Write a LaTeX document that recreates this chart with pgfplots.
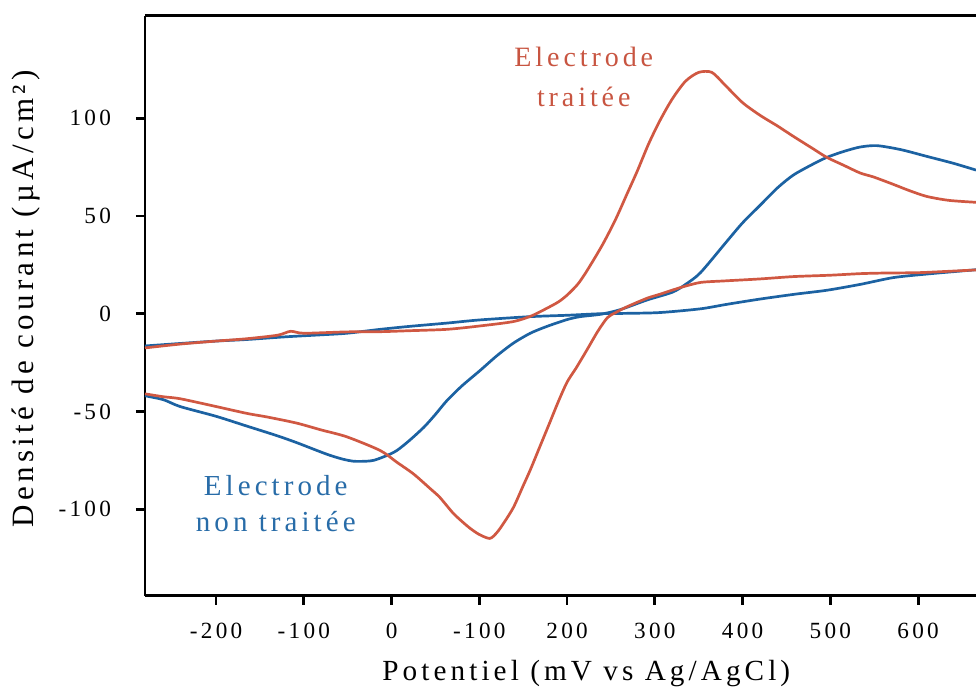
\documentclass[border=0pt]{standalone}
\usepackage{fontspec}
\setmainfont{Liberation Serif}[LetterSpace=14]
\usepackage{pgfplots}
\pgfplotsset{compat=1.18}
\definecolor{cvred}{RGB}{208,88,66}
\definecolor{cvblue}{RGB}{28,98,162}
\definecolor{lblred}{RGB}{200,85,65}
\definecolor{lblblue}{RGB}{40,108,168}
\begin{document}
\begin{tikzpicture}
\begin{axis}[name=ax,
  width=415.5pt, height=290pt, scale only axis,
  xmin=-281, xmax=666, ymin=-144.3, ymax=152.5,
  axis x line=box, axis y line=left,
  x axis line style={-}, y axis line style={-},
  axis line style={line width=1.4pt, black},
  tick align=outside, major tick length=4.5pt,
  tick style={line width=1.4pt, black},
  xtick={-200,-100,0,100,200,300,400,500,600},
  xticklabels={-200,-100,0,-100,200,300,400,500,600},
  ytick={-100,-50,0,50,100},
  yticklabels={-100,-50,0,50,100},
  xtick pos=left, ytick pos=left,
  tick label style={font=\fontsize{11.6}{13}\selectfont},
  xticklabel style={yshift=-5.5pt},
  yticklabel style={xshift=-9pt},
  xlabel={Potentiel (mV vs Ag/AgCl)},
  ylabel={Densité de courant (µA/cm²)},
  xlabel style={font=\fontsize{14.6}{17}\selectfont, at={(axis description cs:0.531,0)}, anchor=base, yshift=-42.2pt},
  ylabel style={font=\fontsize{15.5}{18}\selectfont, at={(axis description cs:0,0.512)}, anchor=base, yshift=55.5pt},
  every axis plot/.append style={line width=1.35pt, line join=round, smooth, tension=0.45},
]
% blue: baseline (upper-left and lower-right)
\addplot[cvblue] coordinates {
(-281,-16.5) (-240,-15.2) (-200,-14) (-165,-13.2) (-120,-11.8) (-80,-10.8) (-51,-10) (-13,-8) (20,-6.5) (63,-4.8) (100,-3.2) (158,-1.5) (200,-0.8) (238,0) (270,0.2) (306,0.6) (352,2.5) (382,4.8) (420,7.5) (460,10) (496,12) (534,15) (572,18.5) (610,20.3) (640,21.5) (666,22.5)
};
% blue: reduction + oxidation waves
\addplot[cvblue] coordinates {
(-281,-42) (-260,-44) (-241,-47.5) (-200,-52.5) (-165,-57.5) (-130,-62.5) (-108,-66) (-85,-70) (-70,-72.5) (-55,-74.5) (-43,-75.5) (-30,-75.5) (-20,-75) (-5,-72.5) (6,-70) (20,-65) (37,-58) (50,-51.5) (63,-44.5) (80,-37) (101,-29) (120,-21.5) (139,-15) (158,-10) (177,-6.5) (200,-3) (215,-1.5) (238,-0.3) (260,2) (291,7) (320,11) (335,15) (352,21) (382,37) (400,46.5) (420,55.5) (440,64.5) (458,71) (480,76.5) (496,80) (515,83) (534,85.3) (553,86) (580,84) (610,80.5) (640,77) (666,73.5)
};
% red: forward scan
\addplot[cvred] coordinates {
(-281,-17.5) (-240,-15.5) (-200,-14) (-165,-12.8) (-130,-11) (-115,-9) (-100,-10) (-51,-9.3) (-13,-9.2) (20,-8.7) (63,-8) (100,-6.3) (139,-4) (160,-1) (177,2.8) (190,6) (200,9.5) (212,15) (222,21.5) (240,35) (255,48) (268,61) (280,73) (293,87) (306,99) (320,110) (335,119) (350,123.5) (365,123.5) (380,117) (400,108) (420,101.5) (440,96) (457,91) (480,84.5) (496,80) (515,76) (534,72) (549,70) (570,66.5) (590,63) (610,60) (635,58) (666,57)
};
% red: return scan
\addplot[cvred] coordinates {
(666,22.4) (630,21.6) (600,21) (560,20.8) (534,20.5) (500,19.7) (458,19) (420,17.8) (380,16.8) (352,16) (330,13.5) (306,10) (291,7.9) (268,3.5) (255,0.5) (246,-2) (235,-9) (222,-19) (210,-28) (200,-35) (190,-45) (180,-56) (169,-68) (158,-80) (150,-88) (139,-99) (128,-107) (120,-112) (112,-115) (100,-113) (90,-110) (82,-107) (70,-102) (55,-94) (44,-89.5) (25,-82) (6,-76) (-13,-70) (-51,-63) (-80,-59.5) (-108,-56) (-140,-53) (-165,-51) (-200,-47.5) (-241,-43.5) (-260,-42.5) (-281,-41)
};
\node[align=center, text=lblred, font=\fontsize{14}{20}\selectfont] at (axis cs:219,121) {Electrode\\traitée};
\node[align=center, text=lblblue, font=\fontsize{14.5}{18}\selectfont] at (axis cs:-132,-97.4) {Electrode\\non traitée};
\end{axis}
\pgfresetboundingbox
\path[use as bounding box] ([xshift=-72.5pt,yshift=-46.65pt]ax.south west) rectangle ([yshift=7.85pt]ax.north east);
\end{tikzpicture}
\end{document}
